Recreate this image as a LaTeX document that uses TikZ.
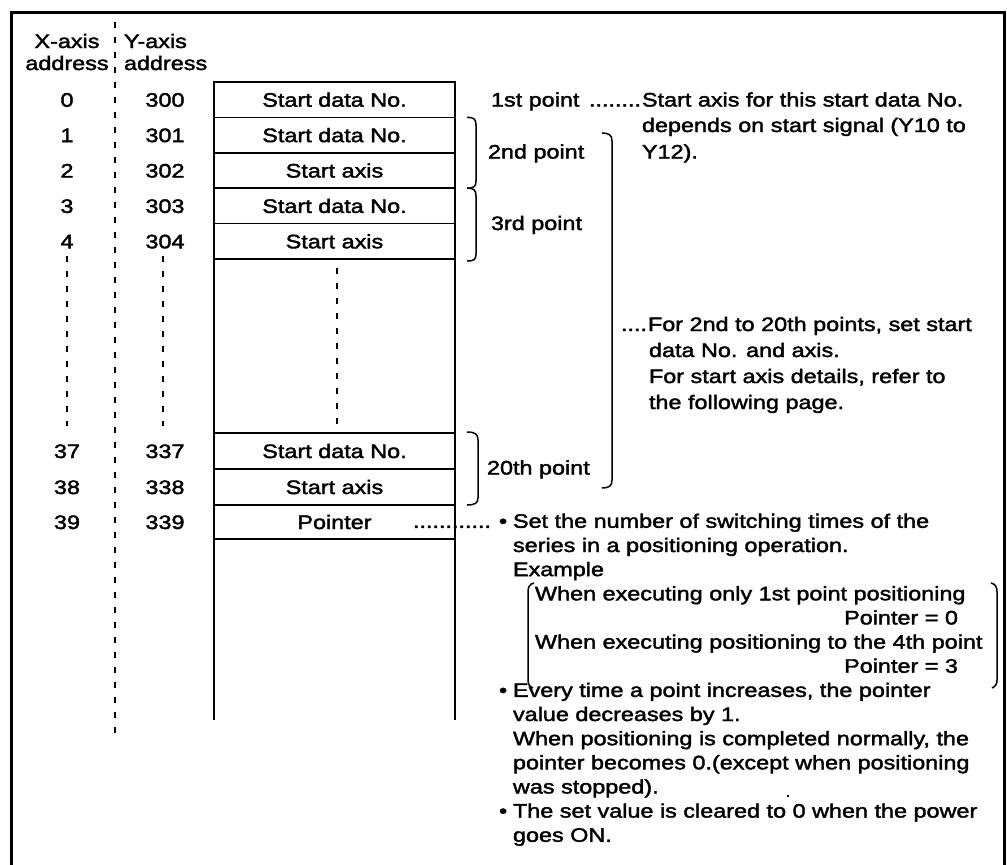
\documentclass[tikz,border=0pt]{standalone}
\usepackage{fontspec}
\setmainfont[FakeStretch=1.2,FakeBold=2]{Liberation Sans}
\begin{document}
\begin{tikzpicture}[x=1pt,y=-1pt,
  tx/.style={font=\fontsize{19.5}{24}\selectfont, inner sep=0pt, outer sep=0pt},
  cell/.style={tx, draw, line width=1.6pt, minimum width=241pt, text height=14pt, text depth=0pt},
  num/.style={tx, text height=14pt, text depth=0pt},
  lt/.style={tx, anchor=base west},
  rt/.style={tx, anchor=base east},
  frm/.style={line width=3pt},
  edge/.style={line width=1.6pt},
  brk/.style={line width=1.5pt},
  dsh/.style={line width=2pt, dash pattern=on 6pt off 9pt}
]
\useasboundingbox (0,0) rectangle (1007,865);

% frame (open at the bottom)
\coordinate (fbl) at (11,866);
\coordinate (ftl) at (11,12.5);
\coordinate (ftr) at (1004,12.5);
\coordinate (fbr) at (1004,866);
\draw[frm] (fbl) -- (ftl) -- (ftr) -- (fbr);

% dashed separator between the address columns
\coordinate (sepT) at (115,22);
\coordinate (sepB) at (115,737);
\draw[dsh] (sepT) -- (sepB);

% headers
\node[tx, anchor=base] (xh1) at (67,48) {X-axis};
\node[tx, anchor=base] (xh2) at (67,70) {address};
\node[lt] (yh1) at (124,48) {Y-axis};
\node[lt] (yh2) at (124,70) {address};

% memory cells
\node[cell, minimum height=35.4pt] (r0) at (334.5,99.7) {Start data No.};
\node[cell, minimum height=35.4pt] (r1) at (334.5,135.1) {Start data No.};
\node[cell, minimum height=35.4pt] (r2) at (334.5,170.5) {Start axis};
\node[cell, minimum height=35.4pt] (r3) at (334.5,205.9) {Start data No.};
\node[cell, minimum height=35.4pt] (r4) at (334.5,241.3) {Start axis};
\node[cell, minimum height=36pt] (r37) at (334.5,451) {Start data No.};
\node[cell, minimum height=36pt] (r38) at (334.5,487) {Start axis};
\node[cell, minimum height=34pt] (r39) at (334.5,522) {Pointer};
\draw[edge] (r4.south west) -- (r37.north west);
\draw[edge] (r4.south east) -- (r37.north east);
\coordinate (bl) at (214,720);
\coordinate (br) at (455,720);
\draw[edge] (r39.south west) -- (bl);
\draw[edge] (r39.south east) -- (br);

% addresses
\node[num] (x0) at (67,99.7) {0};   \node[num] (y0) at (165,99.7) {300};
\node[num] (x1) at (67,135.1) {1};  \node[num] (y1) at (165,135.1) {301};
\node[num] (x2) at (67,170.5) {2};  \node[num] (y2) at (165,170.5) {302};
\node[num] (x3) at (67,205.9) {3};  \node[num] (y3) at (165,205.9) {303};
\node[num] (x4) at (67,241.3) {4};  \node[num] (y4) at (165,241.3) {304};
\node[num] (x37) at (67,451) {37};  \node[num] (y37) at (165,451) {337};
\node[num] (x38) at (67,487) {38};  \node[num] (y38) at (165,487) {338};
\node[num] (x39) at (67,522) {39};  \node[num] (y39) at (165,522) {339};

% continuation dashes
\draw[dsh] (67,256) -- (67,426);
\draw[dsh] (163,256) -- (163,426);
\draw[dsh] (337,268) -- (337,428);

% brackets
\draw[brk] (467,117.4) .. controls (474,117.4) and (476,119) .. (476,125) -- (476,181) .. controls (476,186.5) and (474,188.2) .. (467,188.2);
\draw[brk] (467,188.2) .. controls (474,188.2) and (476,190) .. (476,196) -- (476,254) .. controls (476,259.5) and (474,261) .. (467,261);
\draw[brk] (467,432) .. controls (475,432) and (478,434) .. (478,440) -- (478,498) .. controls (478,503) and (475,505) .. (467,505);
\draw[brk] (602,133) .. controls (609,133) and (612,135) .. (612,141) -- (612,480) .. controls (612,486) and (609,488) .. (602,488);

% point labels
\node[lt] (p1) at (491,106.5) {1st point};
\node[rt] (d1) at (641,106.5) {........};
\node[lt] (t1a) at (642,106.5) {Start axis for this start data No.};
\node[lt] (t1b) at (642,132) {depends on start signal (Y10 to};
\node[lt] (t1c) at (642,158.5) {Y12).};
\node[lt] (p2) at (488,158.5) {2nd point};
\node[lt] (p3) at (491,230) {3rd point};
\node[lt] (p20) at (487,474.5) {20th point};

\node[lt] (d2) at (621,331) {....};
\node[lt] (t2a) at (648,331) {For 2nd to 20th points, set start};
\node[lt] (t2b) at (649,357) {data No. and axis.};
\node[lt] (t2c) at (649,383) {For start axis details, refer to};
\node[lt] (t2d) at (649,409) {the following page.};

% pointer explanation
\node[lt] (d3) at (413,527.8) {............};
\node[lt] (b1) at (499,527.8) {•};
\node[lt] (s1) at (513,527.8) {Set the number of switching times of the};
\node[lt] (s2) at (513,552) {series in a positioning operation.};
\node[lt] (s3) at (513,576.1) {Example};
\node[lt] (e1) at (535,600.3) {When executing only 1st point positioning};
\node[rt] (e2) at (958,624.4) {Pointer = 0};
\node[lt] (e3) at (535,648.6) {When executing positioning to the 4th point};
\node[rt] (e4) at (958,672.7) {Pointer = 3};
\draw[brk] (534,583) .. controls (529.5,584) and (528,587) .. (528,592) -- (528,680) .. controls (528,684) and (529.5,686.5) .. (533,688);
\draw[brk] (991,583) .. controls (995.5,584) and (997,587) .. (997,592) -- (997,680) .. controls (997,684) and (995.5,686.5) .. (992,688);
\node[lt] (b2) at (499,696.9) {•};
\node[lt] (s4) at (513,696.9) {Every time a point increases, the pointer};
\node[lt] (s5) at (513,721) {value decreases by 1.};
\node[lt] (s6) at (513,745.2) {When positioning is completed normally, the};
\node[lt] (s7) at (513,769.3) {pointer becomes 0.(except when positioning};
\node[lt] (s8) at (513,793.5) {was stopped).};
\fill (788,796) circle (1.3pt);
\node[lt] (b3) at (499,817.6) {•};
\node[lt] (s9) at (513,817.6) {The set value is cleared to 0 when the power};
\node[lt] (s10) at (513,841.8) {goes ON.};
\end{tikzpicture}
\end{document}
